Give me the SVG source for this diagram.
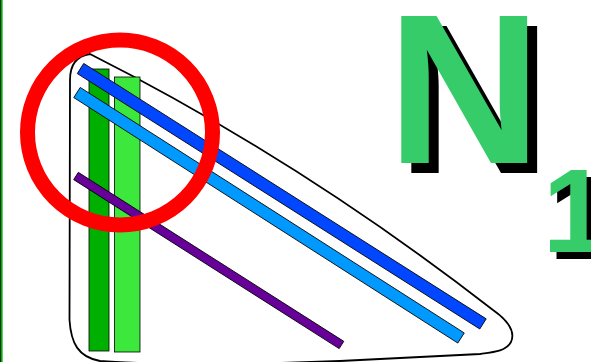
<svg xmlns="http://www.w3.org/2000/svg" width="591" height="362" viewBox="0 0 591 362">
<style>
.bar{stroke:#000;stroke-width:0.8}
.lbl{font-family:"Liberation Sans",Arial,sans-serif;font-weight:bold}
.sh{fill:#000}
.fg{fill:#36cc6a}
</style>
<rect width="591" height="362" fill="#fff"/>
<g id="edge-line">
<rect x="0" y="0" width="2.6" height="362" fill="#00aa00"/>
<line x1="0.4" y1="0" x2="0.4" y2="362" stroke="#000" stroke-width="0.8"/>
</g>
<g id="outline">
<path d="M90,54 Q300,160 493,310 C510,322 515,333 511,342 C506,351 495,352 480,354 L340,361 C250,365 130,364 100,361 C78,357 71,343 69.5,320 L70,80 C70,66 76,56 90,54 Z" fill="none" stroke="#000" stroke-width="1.8"/>
</g>
<g id="bars">
<rect id="bar-darkgreen" class="bar" x="89" y="69" width="20" height="282" fill="#00b000"/>
<rect id="bar-lightgreen" class="bar" x="114.5" y="77" width="25.5" height="275" fill="#3de83d" stroke="#555"/>
<rect id="bar-blue" class="bar" x="0" y="-6" width="476.7" height="12" fill="#0047ff" transform="translate(80.5,68.5) rotate(32.4)"/>
<rect id="bar-lightblue" class="bar" x="0" y="-6" width="455.8" height="12" fill="#0099ff" transform="translate(77,92.5) rotate(32.59)"/>
<rect id="bar-purple" class="bar" x="0" y="-4.3" width="314.7" height="8.6" fill="#660099" transform="translate(76,176) rotate(32.48)"/>
</g>
<g id="circle">
<circle cx="120" cy="132.5" r="92.5" fill="none" stroke="#ff0000" stroke-width="15"/>
</g>
<g id="label">
<text class="lbl sh" x="397" y="173" font-size="214">N</text>
<text class="lbl fg" x="387" y="163" font-size="214">N</text>
<text class="lbl sh" x="549" y="258.5" font-size="119">1</text>
<text class="lbl fg" x="542.5" y="252" font-size="119">1</text>
</g>
</svg>
